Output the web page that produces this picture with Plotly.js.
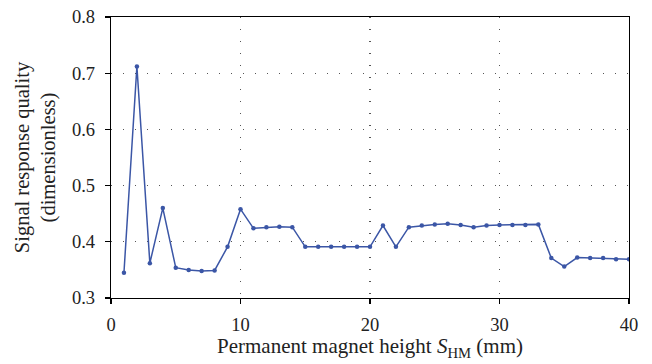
<!DOCTYPE html>
<html>
<head>
<meta charset="utf-8">
<script src="https://cdn.plot.ly/plotly-3.0.1.min.js"></script>
<style>html,body{margin:0;padding:0;background:#fff;}#chart{width:652px;height:364px;}</style>
</head>
<body>
<div id="chart"></div>
<script>
const heights = [1,2,3,4,5,6,7,8,9,10,11,12,13,14,15,16,17,18,19,20,21,22,23,24,25,26,27,28,29,30,31,32,33,34,35,36,37,38,39,40];
const quality = [0.345,0.712,0.362,0.460,0.354,0.350,0.348,0.349,0.391,0.458,
                 0.424,0.426,0.427,0.426,0.391,0.391,0.391,0.391,0.391,0.391,
                 0.429,0.391,0.426,0.429,0.431,0.432,0.430,0.426,0.429,0.430,
                 0.430,0.430,0.431,0.371,0.356,0.372,0.371,0.371,0.369,0.369];
const xTitle = 'Permanent magnet height <i>S</i><sub>HM</sub> (mm)';
const yTitle = 'Signal response quality<br>(dimensionless)';

const fontFam = '"Liberation Serif", "DejaVu Serif", serif';
const trace = {
  x: heights, y: quality, type: 'scatter', mode: 'lines+markers',
  line: {color: '#3b56a6', width: 1.5},
  marker: {color: '#3b56a6', size: 4.5},
  hoverinfo: 'skip'
};
const axisCommon = {
  showline: true, linecolor: '#000', linewidth: 1.3, mirror: true,
  ticks: 'outside', ticklen: 5, tickcolor: '#000', tickwidth: 1.2,
  showgrid: true, gridcolor: '#555', gridwidth: 1.3, griddash: '1.3px,10.7px',
  zeroline: false,
  tickfont: {family: fontFam, size: 18.5, color: '#222'}
};
const layout = {
  width: 652, height: 364,
  margin: {l: 111, r: 23, t: 17, b: 66},
  paper_bgcolor: '#fff', plot_bgcolor: '#fff',
  showlegend: false,
  xaxis: Object.assign({}, axisCommon, {
    range: [0, 40], dtick: 10, tick0: 0, ticklabelstandoff: 4,
    title: {text: xTitle, font: {family: fontFam, size: 21, color: '#222'}, standoff: 4}
  }),
  yaxis: Object.assign({}, axisCommon, {
    range: [0.3, 0.8], dtick: 0.1, tick0: 0.3, tickformat: '.1f', ticklabelstandoff: 6,
    title: {text: yTitle, font: {family: fontFam, size: 20.5, color: '#222'}, standoff: 10}
  })
};
Plotly.newPlot('chart', [trace], layout, {staticPlot: true, displayModeBar: false});
</script>
</body>
</html>
